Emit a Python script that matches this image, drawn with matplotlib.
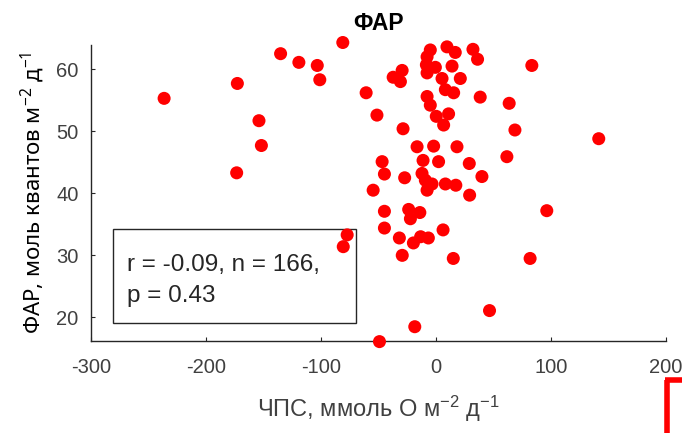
import matplotlib
matplotlib.use('Agg')
from matplotlib import pyplot as plt
from matplotlib.patches import Rectangle
from matplotlib.lines import Line2D

# ЧПС (ммоль O м-2 д-1) vs ФАР (моль квантов м-2 д-1)
chps = [-236.4, -172.7, -135.1, -119.2, -103.2, -101.0, -81.0, -60.7, -51.3, -153.9,
        -151.8, -173.3, -54.6, -46.8, -44.8, -44.8, -44.8, -77.2, -80.6, -49.1,
        -4.9, -7.7, -8.3, -7.7, 9.6, 16.8, 32.2, 36.2, 14.0, -0.5,
        -29.4, -37.2, -30.9, 5.3, 21.2, 8.2, 15.4, 38.5, 63.7, 83.4,
        -7.7, -4.9, 0.3, 11.0, 6.7, -28.6, 68.7, 141.6, -16.4, -2.0,
        18.3, 61.7, -11.2, 2.3, 29.0, -27.2, -12.1, -9.2, -3.4, -7.7,
        8.2, 17.3, 40.0, 29.3, -23.7, -14.0, -22.2, 96.4, 6.2, -31.8,
        -19.6, -13.3, -6.6, -29.3, 15.1, 81.9, 46.6, -18.4]
far = [55.3, 57.7, 62.5, 61.1, 60.6, 58.3, 64.3, 56.2, 52.6, 51.7,
       47.7, 43.3, 40.5, 45.1, 43.1, 37.1, 34.4, 33.3, 31.4, 16.1,
       63.1, 62.0, 60.7, 59.4, 63.6, 62.7, 63.2, 61.6, 60.5, 60.3,
       59.8, 58.7, 58.0, 58.5, 58.5, 56.7, 56.2, 55.5, 54.5, 60.6,
       55.6, 54.2, 52.4, 52.8, 51.0, 50.4, 50.2, 48.8, 47.5, 47.6,
       47.5, 45.9, 45.3, 45.1, 44.8, 42.5, 43.2, 42.1, 41.5, 40.5,
       41.5, 41.3, 42.7, 39.7, 37.4, 36.9, 35.9, 37.2, 34.1, 32.8,
       32.0, 33.0, 32.8, 30.0, 29.5, 29.5, 21.1, 18.5]

x_ticks = [-300, -200, -100, 0, 100, 200]
y_ticks = [20, 30, 40, 50, 60]
stats_text = 'r = -0.09, n = 166,\np = 0.43'

plt.rcParams['font.family'] = ['Liberation Sans', 'DejaVu Sans']
plt.rcParams['mathtext.default'] = 'regular'
plt.rcParams['axes.unicode_minus'] = False

axis_color = '#262626'

fig = plt.figure(figsize=(6.82, 4.33), dpi=100)
ax = fig.add_axes([0.1334, 0.2125, 0.843, 0.6836])

ax.scatter(chps, far, s=88, color='#ff0000', edgecolors='none', zorder=3, clip_on=False)

ax.set_xlim(-300, 200)
ax.set_ylim(16.2, 63.9)
ax.set_xticks(x_ticks)
ax.set_yticks(y_ticks)
for side in ('top', 'right'):
    ax.spines[side].set_visible(False)
for side in ('left', 'bottom'):
    ax.spines[side].set_color(axis_color)
    ax.spines[side].set_linewidth(1.0)
ax.tick_params(direction='in', length=3, width=0.8, color=axis_color,
               labelcolor='#404040', labelsize=14.5)
ax.tick_params(axis='x', pad=12)
ax.tick_params(axis='y', pad=9)

ax.set_title('ФАР', fontsize=16.5, fontweight='bold', color='black', pad=11)
ax.set_xlabel('ЧПС, ммоль О м$^{-2}$ д$^{-1}$', fontsize=17, color='#404040', labelpad=12)
ax.set_ylabel('ФАР, моль квантов м$^{-2}$ д$^{-1}$', fontsize=16, color='black',
              family=['Noto Sans', 'DejaVu Sans'], labelpad=7)

# stats box
ax.add_patch(Rectangle((0.038, 0.061), 0.423, 0.317, transform=ax.transAxes,
                       facecolor='white', edgecolor=axis_color, linewidth=1.0, zorder=2))
ax.text(0.062, 0.205, stats_text, transform=ax.transAxes, fontsize=17.5,
        color=axis_color, va='center', ha='left', linespacing=1.55, zorder=2.5)

# red corner mark at the bottom right
fig.add_artist(Line2D([667 / 682, 667 / 682], [0, (433 - 380) / 433],
                      color='#ff0000', linewidth=4, solid_capstyle='butt'))
fig.add_artist(Line2D([665 / 682, 1.0], [(433 - 380) / 433, (433 - 380) / 433],
                      color='#ff0000', linewidth=4, solid_capstyle='butt'))

fig.savefig('out.png', dpi=100)
